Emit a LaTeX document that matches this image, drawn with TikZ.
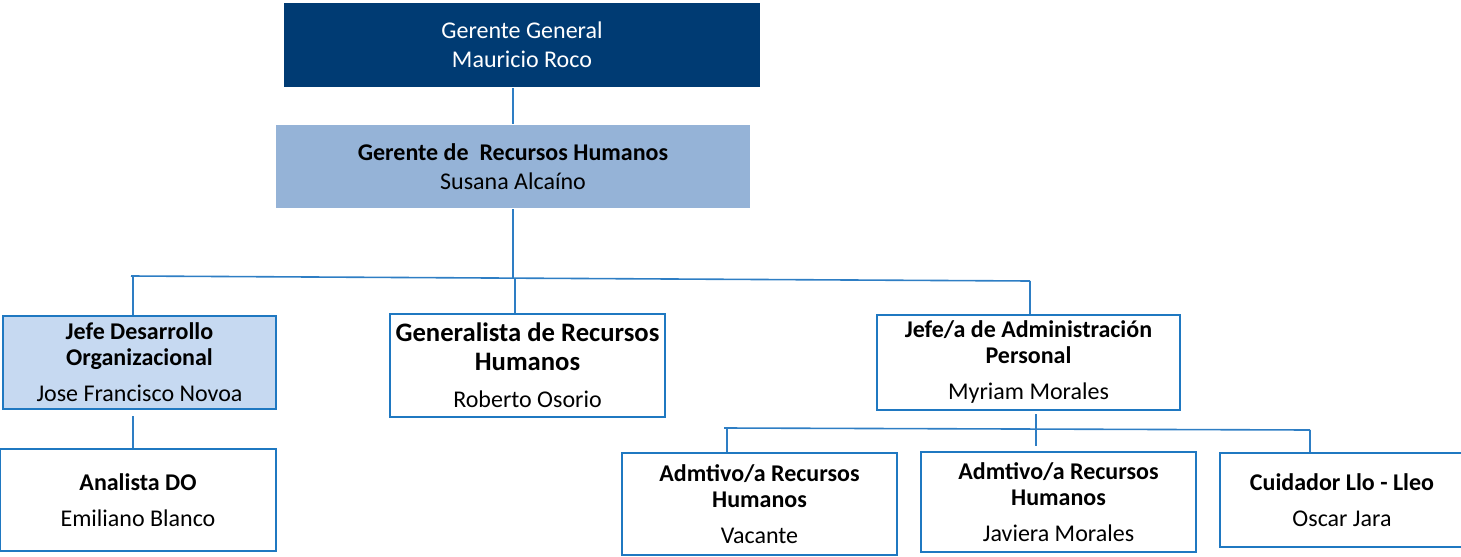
\documentclass[tikz,border=0pt]{standalone}
\usepackage{fontspec}
\setmainfont{Carlito}
\definecolor{azul}{HTML}{003B73}
\definecolor{celeste}{HTML}{95B3D7}
\definecolor{clarito}{HTML}{C6D9F1}
\definecolor{borde}{HTML}{1F78C1}
\definecolor{lineacol}{HTML}{2E7EC4}
\begin{document}
\begin{tikzpicture}[x=0.75pt,y=-0.75pt,
        caja/.style={draw=borde,line width=1.5pt,align=center,inner sep=0pt,
            font=\fontsize{18}{19.5}\selectfont},
        grande/.style={font=\fontsize{18}{21.5}\selectfont},
        linea/.style={draw=lineacol,line width=1.2pt}]
    \useasboundingbox (0,0) rectangle (1461,557);
    % jefaturas
    \node[caja,grande,fill=azul,draw=none,text=white,minimum width=357pt,minimum height=63pt] (gg) at (522,45)
        {Gerente General\\ Mauricio Roco};
    \node[caja,grande,fill=celeste,draw=none,minimum width=355.5pt,minimum height=62.25pt] (rh) at (513,166.5)
        {\textbf{Gerente de \ Recursos Humanos}\\Susana Alcaíno};
    % segundo nivel
    \node[caja,fill=clarito,minimum width=204.75pt,minimum height=69.75pt] (jdo) at (139.5,362.5)
        {\textbf{Jefe Desarrollo}\\\textbf{Organizacional}\\[7.5pt]Jose Francisco Novoa};
    \node[caja,font=\fontsize{20}{21.75}\selectfont,minimum width=206.25pt,minimum height=77.25pt] (gr) at (527.5,365.5)
        {\textbf{Generalista de Recursos}\\\textbf{Humanos}\\[6pt]\fontsize{18}{19.5}\selectfont Roberto Osorio};
    \node[caja,minimum width=227.25pt,minimum height=71.25pt] (ja) at (1028.5,362.5)
        {\textbf{Jefe/a de Administración}\\\textbf{Personal}\\[7.5pt]Myriam Morales};
    % tercer nivel
    \node[caja,minimum width=207pt,minimum height=76.5pt] (an) at (138,500)
        {\textbf{Analista DO}\\[7.5pt]Emiliano Blanco};
    \node[caja,minimum width=206.25pt,minimum height=76.5pt] (ad1) at (759.5,504)
        {\textbf{Admtivo/a Recursos}\\\textbf{Humanos}\\[7.5pt]Vacante};
    \node[caja,minimum width=206.25pt,minimum height=75pt] (ad2) at (1058.5,502)
        {\textbf{Admtivo/a Recursos}\\\textbf{Humanos}\\[7.5pt]Javiera Morales};
    \node[caja,minimum width=183pt,minimum height=70.5pt] (cu) at (1342,500)
        {\textbf{Cuidador Llo - Lleo}\\[7.5pt]Oscar Jara};
    % lineas
    \coordinate (b1) at (513,278.5);
    \coordinate (b1i) at (133,276);
    \coordinate (b1c) at (515,278.5);
    \coordinate (b1d) at (1030,281);
    \draw[linea] (rh.north |- gg.south) -- (rh.north);
    \draw[linea] (rh.south) -- (b1);
    \draw[linea] (131,276) -- (b1d);
    \draw[linea] (b1i) -- (b1i |- jdo.north);
    \draw[linea] (b1c) -- (b1c |- gr.north);
    \draw[linea] (b1d) -- (b1d |- ja.north);
    \coordinate (c2) at (133,416);
    \draw[linea] (c2) -- (c2 |- an.north);
    \coordinate (c3) at (1036,414);
    \draw[linea] (c3) -- ++(0,32);
    \coordinate (b2i) at (727,428);
    \coordinate (b2d) at (1310,430);
    \draw[linea] (724,428) -- (b2d);
    \draw[linea] (b2i) -- (b2i |- ad1.north);
    \draw[linea] (b2d) -- (b2d |- cu.north);
\end{tikzpicture}
\end{document}
